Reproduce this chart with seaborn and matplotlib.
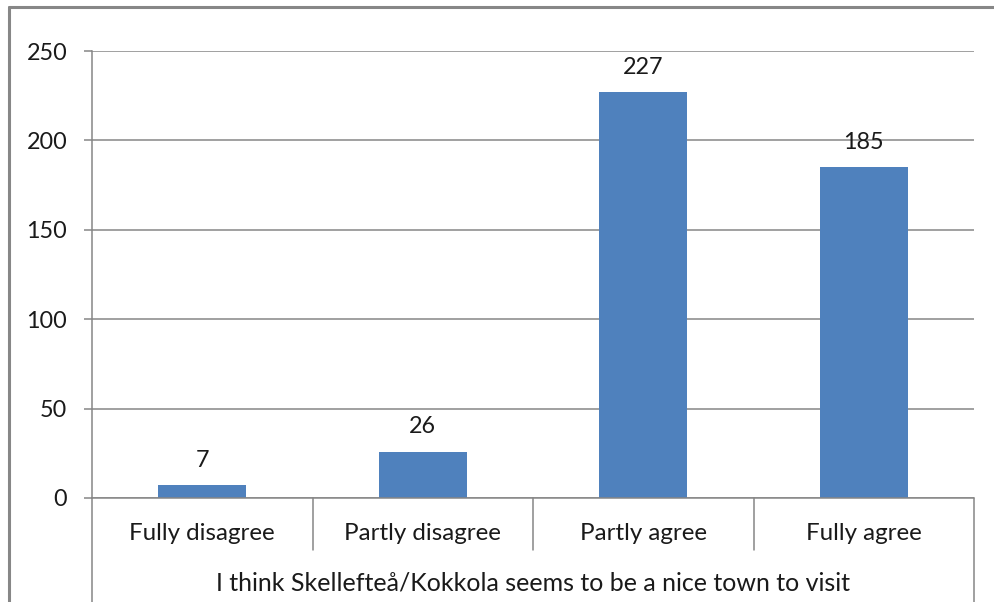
import matplotlib
matplotlib.use("Agg")
import matplotlib.pyplot as plt
from matplotlib.lines import Line2D
import seaborn as sns
import pandas as pd

categories = ["Fully disagree", "Partly disagree", "Partly agree", "Fully agree"]
counts = [7, 26, 227, 185]
y_ticks = [0, 50, 100, 150, 200, 250]
group_label = "I think Skellefteå/Kokkola seems to be a nice town to visit"

sns.set_theme(style="white")
plt.rcParams["font.family"] = ["Lato", "DejaVu Sans"]

W, H = 994, 602
FS = 16.8
FS_CAT = 17.4
FS_GROUP = 18.0
TXT = "#1a1a1a"
fig = plt.figure(figsize=(W / 100, H / 100), dpi=100)
fig.patch.set_facecolor("white")

# plot area in pixel coordinates
x0, x1, y_top, y_zero = 92, 974, 51, 498
ax = fig.add_axes([x0 / W, (H - y_zero) / H, (x1 - x0) / W, (y_zero - y_top) / H])

df = pd.DataFrame({"category": categories, "count": counts})
sns.barplot(data=df, x="category", y="count", color="#4F81BD", width=0.4,
            saturation=1, linewidth=0, ax=ax, zorder=3)

grey = "#868686"
ax.set_ylim(0, 250)
ax.set_xlim(-0.5, len(categories) - 0.5)
ax.set_yticks(y_ticks)
ax.yaxis.grid(True, color=grey, linewidth=1.1, zorder=0)
ax.set_axisbelow(True)
for side in ["top", "right", "bottom"]:
    ax.spines[side].set_visible(False)
ax.spines["left"].set_color(grey)
ax.spines["left"].set_linewidth(1.1)
ax.tick_params(axis="y", which="major", left=True, length=5.8, width=1.1,
               color=grey, pad=12, labelsize=FS, labelcolor=TXT)
ax.set_xticks([])
ax.set_xlabel("")
ax.set_ylabel("")

# value labels above bars
for i, v in enumerate(counts):
    ax.annotate(str(v), (i, v), xytext=(0, 18), textcoords="offset points",
                ha="center", va="center", fontsize=FS, color=TXT)

# category boxes below the axis
trans = ax.get_xaxis_transform()
px = 1.0 / (y_zero - y_top)  # one pixel in axes-y units
sep_bottom = -(550 - y_zero) * px
fig_bottom = -(H - y_zero) * px
ax.add_line(Line2D([-0.5, len(categories) - 0.5], [0, 0], transform=trans,
                   color=grey, linewidth=1.1, clip_on=False, zorder=4))
for k in range(len(categories) + 1):
    xk = k - 0.5
    yb = fig_bottom if k in (0, len(categories)) else sep_bottom
    ax.add_line(Line2D([xk, xk], [0, yb], transform=trans, color=grey,
                       linewidth=1.1, clip_on=False))
for i, c in enumerate(categories):
    ax.text(i, -(533 - y_zero) * px, c, transform=trans, ha="center",
            va="center", fontsize=FS_CAT, color=TXT)
ax.text((len(categories) - 1) / 2, -(583 - y_zero) * px, group_label,
        transform=trans, ha="center", va="center", fontsize=FS_GROUP, color=TXT)

# chart frame
fig.add_artist(Line2D([9 / W, 1.0], [1 - 7 / H, 1 - 7 / H],
                      transform=fig.transFigure, color="#878787", linewidth=2.2))
fig.add_artist(Line2D([9 / W, 9 / W], [0.0, 1 - 7 / H],
                      transform=fig.transFigure, color="#878787", linewidth=2.2))

fig.savefig("out.png", dpi=100, facecolor="white")
